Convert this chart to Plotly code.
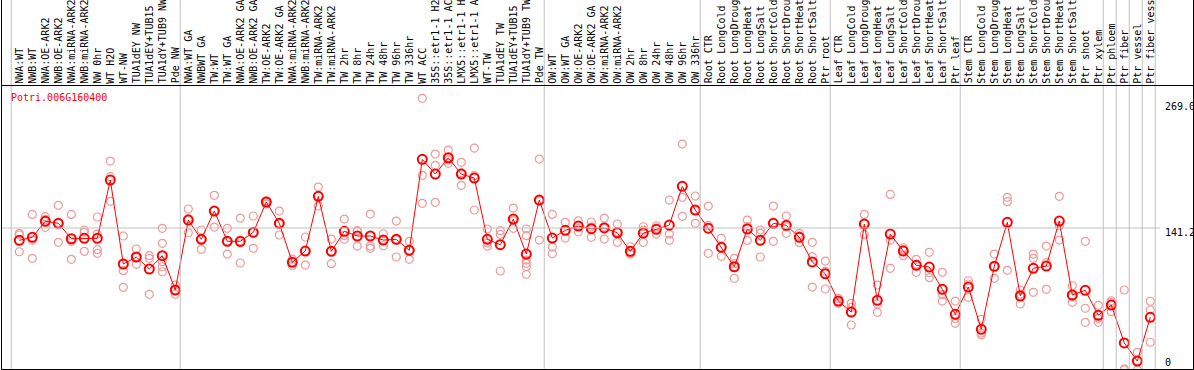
import plotly.graph_objects as go

# ---------------- data ----------------
title = "Potri.006G160400"

categories = [
    "NWA:WT", "NWB:WT", "NWA:OE-ARK2", "NWB:OE-ARK2", "NWA:miRNA-ARK2", "NWB:miRNA-ARK2",
    "NW 0hr", "WT H2O", "WT-NW", "TUA1dEY NW", "TUA1dEY+TUB15", "TUA1dY+TUB9 NW", "Pde NW",
    "NWA:WT GA", "NWBWT GA", "TW:WT", "TW:WT GA", "NWA:OE-ARK2 GA", "NWB:OE-ARK2 GA",
    "TW:OE-ARK2", "TW:OE-ARK2 GA", "NWA:miRNA-ARK2", "NWB:miRNA-ARK2", "TW:miRNA-ARK2",
    "TW:miRNA-ARK2", "TW 2hr", "TW 8hr", "TW 24hr", "TW 48hr", "TW 96hr", "TW 336hr",
    "WT ACC", "35S::etr1-1 H2", "35S::etr1-1 AC", "LMX5::etr1-1 H", "LMX5::etr1-1 A",
    "WT-TW", "TUA1dEY TW", "TUA1dEY+TUB15", "TUA1dY+TUB9 TW", "Pde TW",
    "OW:WT", "OW:WT GA", "OW:OE-ARK2", "OW:OE-ARK2 GA", "OW:miRNA-ARK2", "OW:miRNA-ARK2",
    "OW 2hr", "OW 8hr", "OW 24hr", "OW 48hr", "OW 96hr", "OW 336hr",
    "Root CTR", "Root LongCold", "Root LongDroug", "Root LongHeat", "Root LongSalt",
    "Root ShortCold", "Root ShortDrou", "Root ShortHeat", "Root ShortSalt", "Ptr root",
    "Leaf CTR", "Leaf LongCold", "Leaf LongDroug", "Leaf LongHeat", "Leaf LongSalt",
    "Leaf ShortCold", "Leaf ShortDrou", "Leaf ShortHeat", "Leaf ShortSalt", "Ptr leaf",
    "Stem CTR", "Stem LongCold", "Stem LongDroug", "Stem LongHeat", "Stem LongSalt",
    "Stem ShortCold", "Stem ShortDrou", "Stem ShortHeat", "Stem ShortSalt", "Ptr shoot",
    "Ptr xylem", "Ptr phloem", "Ptr fiber", "Ptr vessel", "Ptr fiber vess",
]

means = [
    129.0, 132.0, 147.8, 145.8, 130.6, 131.0, 131.0, 188.4, 105.7, 112.6, 100.8, 113.9, 80.1,
    149.0, 130.0, 157.9, 128.1, 128.1, 136.9, 166.8, 145.8, 107.4, 118.5, 172.4, 118.2,
    137.9, 133.3, 133.3, 129.3, 130.0, 119.2,
    208.8, 194.3, 210.4, 194.3, 190.4, 130.0, 124.7, 150.0, 115.5, 168.7,
    131.3, 138.9, 143.1, 140.5, 141.2, 136.5, 118.2, 136.2, 139.9, 144.1, 182.2, 158.9,
    140.9, 122.1, 103.0, 140.2, 129.0, 145.8, 143.8, 132.0, 107.7, 96.1,
    69.2, 58.4, 145.1, 69.9, 135.2, 118.5, 104.4, 102.7, 80.8, 56.1,
    83.0, 41.4, 103.4, 146.8, 74.2, 101.5, 103.7, 148.0, 75.2, 79.8,
    55.2, 65.3, 27.9, 10.1, 53.2,
]

replicates = [
    [135.9, 134.3, 117.8], [154.6, 129.3, 111.3], [152.3, 149.7, 141.8], [163.5, 145.8, 127.1],
    [154.6, 128.1, 110.3], [139.2, 136.9, 118.2], [152.0, 135.2, 119.8, 116.2], [207.1, 191.7, 167.5],
    [133.3, 99.1, 82.7], [120.5, 112.0, 105.4], [113.9, 111.3, 75.8], [140.9, 126.1, 108.0, 103.0, 98.1],
    [85.0, 80.0, 75.8],
    [159.9, 150.5, 136.5], [139.2, 130.5, 120.2], [173.4, 158.2, 142.1], [140.9, 128.0, 115.5],
    [151.0, 126.5, 106.7], [153.0, 136.5, 121.2], [168.0, 167.0, 164.8], [157.9, 145.2, 134.3],
    [110.6, 107.5, 104.0], [132.3, 118.5, 104.7], [181.5, 172.9, 162.8], [130.3, 118.3, 106.0],
    [150.0, 133.9, 130.0], [138.5, 137.9, 123.4], [154.9, 123.4, 121.2], [135.5, 128.7, 123.7],
    [148.0, 129.4, 112.6], [128.1, 119.2, 110.3],
    [268.9, 193.1, 165.5], [214.0, 202.9, 166.5], [218.0, 208.3, 204.9], [205.9, 195.6, 183.2],
    [219.9, 192.7, 158.9], [140.2, 126.5, 123.4], [138.5, 134.9, 98.8], [160.8, 148.4, 140.9],
    [140.2, 133.6, 109.6, 106.4, 103.0, 95.5], [209.1, 168.0, 129.3],
    [154.6, 122.4, 115.8], [146.8, 138.6, 131.3], [148.3, 143.5, 137.5], [147.1, 142.4, 132.0],
    [151.0, 142.3, 130.3], [145.1, 137.3, 127.1], [122.7, 116.4, 115.5], [142.4, 139.0, 127.1],
    [143.4, 141.1, 135.2], [168.7, 135.2, 129.0], [223.9, 171.4, 152.7], [172.7, 158.2, 145.8],
    [162.8, 143.7, 116.2], [131.0, 122.0, 113.3], [111.3, 106.0, 91.6], [149.0, 142.6, 129.0],
    [139.2, 135.9, 112.6], [162.8, 146.5, 128.1], [153.0, 142.5, 135.9], [135.9, 133.4, 126.7],
    [127.1, 112.9, 83.0], [108.6, 98.5, 81.1],
    [71.9, 68.7, 67.0], [67.0, 63.0, 45.6], [154.6, 145.8, 134.9], [85.0, 66.3, 58.1],
    [174.3, 129.3, 101.5], [121.7, 119.8, 113.9], [110.3, 105.4, 97.5], [117.2, 97.1, 92.2],
    [97.5, 75.6, 69.2], [69.2, 52.0, 47.3],
    [89.2, 86.0, 72.9], [51.2, 37.7, 35.8], [115.5, 103.0, 91.6], [171.4, 167.1, 99.5],
    [80.1, 76.0, 66.3], [115.5, 111.3, 77.8], [123.4, 107.0, 80.8], [172.4, 143.4, 129.3],
    [84.3, 73.5, 68.0], [128.1, 62.1, 48.3],
    [65.0, 52.2, 48.3], [69.5, 67.6, 58.7], [80.1, 2.3, 1.3], [18.7, 10.4, 1.3], [69.0, 60.4, 28.6],
]

# index of the first category of each group (plus the end)
group_starts = [0, 13, 41, 53, 63, 73, 84, 85, 86, 87, 88]
y_ticks = [0, 141.2, 269.0]
grid_value = 141.2

# ---------------- geometry / style ----------------
W, H = 1194, 370
X0, DX = 19.3, 13.0      # pixel centre of first column, column pitch
Y0, KY = 371.3, 1.015    # pixel row of value 0, pixels per unit
HEADER_Y = 85.5
BOTTOM_Y = 369.5
FONT = "DejaVu Sans Mono"
tick_label_rows = [362, 232, 107]

x_range = [(0 - X0) / DX, (W - X0) / DX]
y_range = [(Y0 - H) / KY, Y0 / KY]


def px(x):
    return x / W


def py(y):
    return 1 - y / H


rep_x = [i for i, reps in enumerate(replicates) for _ in reps]
rep_y = [v for reps in replicates for v in reps]

fig = go.Figure()
fig.add_trace(go.Scatter(
    x=rep_x, y=rep_y, mode="markers",
    marker=dict(symbol="circle-open", size=8, color="#ee9a9a", line=dict(width=1.2, color="#ee9a9a")),
    hoverinfo="skip", showlegend=False,
))
fig.add_trace(go.Scatter(
    x=list(range(len(means))), y=means, mode="lines+markers",
    line=dict(color="#ff0000", width=1),
    marker=dict(symbol="circle-open", size=9, color="#ff0000", line=dict(width=2, color="#ff0000")),
    showlegend=False,
))

shapes = []
# group separators
for b in group_starts:
    shapes.append(dict(type="line", xref="x", yref="paper", x0=b - 0.62, x1=b - 0.62,
                       y0=py(BOTTOM_Y), y1=1, line=dict(color="#c0c0c0", width=1)))
# horizontal grid line
shapes.append(dict(type="line", xref="paper", yref="y", x0=px(2), x1=px(1160),
                   y0=grid_value, y1=grid_value, line=dict(color="#c0c0c0", width=1)))
# frame
shapes.append(dict(type="line", xref="paper", yref="paper", x0=px(1), x1=px(1193.5),
                   y0=py(HEADER_Y), y1=py(HEADER_Y), line=dict(color="black", width=1)))
shapes.append(dict(type="line", xref="paper", yref="paper", x0=px(1), x1=px(1193.5),
                   y0=py(BOTTOM_Y), y1=py(BOTTOM_Y), line=dict(color="black", width=1)))
shapes.append(dict(type="line", xref="paper", yref="paper", x0=px(1.5), x1=px(1.5),
                   y0=py(BOTTOM_Y), y1=1, line=dict(color="black", width=1)))
shapes.append(dict(type="line", xref="paper", yref="paper", x0=px(1193.5), x1=px(1193.5),
                   y0=py(BOTTOM_Y), y1=1, line=dict(color="black", width=1)))

annotations = []
for i, lab in enumerate(categories):
    annotations.append(dict(x=i, xref="x", y=py(84.5), yref="paper", text=lab,
                            textangle=-90, xanchor="center", yanchor="bottom",
                            showarrow=False, borderpad=0,
                            font=dict(family=FONT, size=10, color="black")))
annotations.append(dict(x=px(9), xref="paper", y=py(97), yref="paper", text=title,
                        xanchor="left", yanchor="middle", showarrow=False,
                        font=dict(family=FONT, size=10, color="#ff0000")))
for v, row in zip(y_ticks, tick_label_rows):
    lab = "0" if v == 0 else f"{v:.1f}"
    annotations.append(dict(x=px(1163), xref="paper", y=py(row), yref="paper", text=lab,
                            xanchor="left", yanchor="middle", showarrow=False,
                            font=dict(family=FONT, size=10, color="black")))

fig.update_layout(
    width=W, height=H, margin=dict(l=0, r=0, t=0, b=0),
    paper_bgcolor="white", plot_bgcolor="white",
    xaxis=dict(range=x_range, visible=False, fixedrange=True),
    yaxis=dict(range=y_range, visible=False, fixedrange=True),
    shapes=shapes, annotations=annotations,
)

fig.write_html(
    "out.html",
    config={"displayModeBar": False},
    post_script="document.body.style.margin='0';document.body.style.overflow='hidden';",
)
